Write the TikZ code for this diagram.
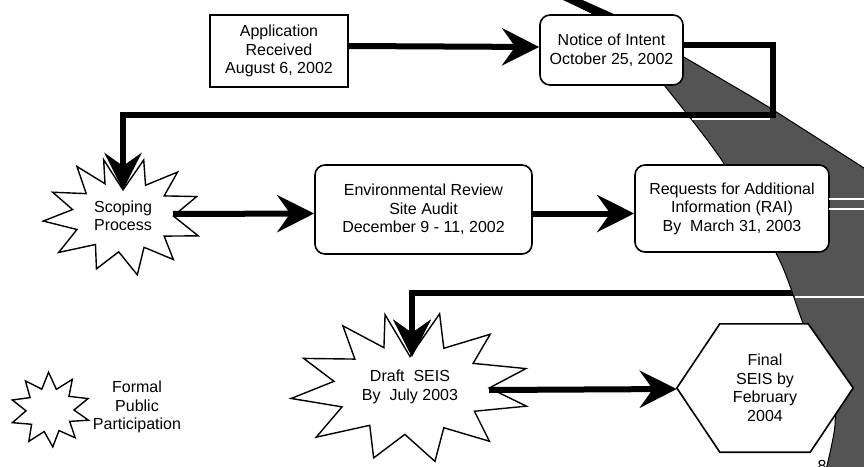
\documentclass[tikz,border=0pt]{standalone}
\usepackage{fontspec}
\setmainfont{Liberation Sans}
\usetikzlibrary{arrows.meta,calc}
\pgfdeclarelayer{low}
\pgfdeclarelayer{band}
\pgfdeclarelayer{top}
\pgfsetlayers{low,band,main,top}
\definecolor{bandgray}{gray}{0.33}
\begin{document}
\begin{tikzpicture}[x=1pt,y=-1pt,
  lbl/.style={font=\fontsize{16}{18.5}\selectfont, align=center},
  box/.style={lbl, draw, line width=1.6pt, fill=white, inner sep=0pt},
  rbox/.style={box, rounded corners=10pt},
  burstline/.style={draw, line width=1.4pt, fill=white, line join=miter},
  link/.style={line width=6pt, line join=miter, line cap=butt},
  flow/.style={link, -{Stealth[length=37pt,width=37pt,inset=13pt]}},
  streak/.style={white, line width=1.5pt},
]
\useasboundingbox (0,0) rectangle (864,466);

% ---------------- nodes ----------------
\node[box, minimum width=138pt, minimum height=72pt] (app) at (279,51) {Application\\Received\\August 6, 2002};
\node[rbox, minimum width=143pt, minimum height=70pt] (notice) at (611.5,50) {Notice of Intent\\October 25, 2002};

% Scoping starburst
\coordinate (scoping) at (123,216);
\begin{scope}[shift={(scoping)}, x=80pt, y=-58pt]
\path[burstline] plot coordinates {(0:0.63) (20:1.0) (34:0.62) (50:0.98) (64:0.6) (80:1.03) (95:0.62) (110:0.97) (125:0.6) (142:1.02) (158:0.62) (175:1.0) (190:0.64) (205:0.97) (220:0.6) (236:1.03) (248:0.6) (256:1.0) (270:0.45) (285:1.0) (298:0.6) (312:1.02) (326:0.62) (340:0.98)} -- cycle;
\end{scope}
\node[lbl] (scopingtext) at (scoping) {Scoping\\Process};

\node[rbox, minimum width=217pt, minimum height=89pt] (env) at (423.5,209.5) {Environmental Review\\Site Audit\\December 9 - 11, 2002};
\node[rbox, minimum width=194pt, minimum height=87pt] (rai) at (732,208.5) {Requests for Additional\\Information (RAI)\\By\ \ March 31, 2003};

% Draft SEIS starburst
\coordinate (draft) at (410,388);
\begin{scope}[shift={(draft)}, x=120pt, y=-75pt]
\path[burstline] plot coordinates {(0:0.66) (14:1.0) (30:0.62) (47:0.97) (62:0.6) (78:1.0) (94:0.62) (108:0.98) (124:0.6) (140:1.02) (156:0.62) (172:1.0) (188:0.64) (204:0.97) (220:0.6) (236:1.0) (248:0.58) (258:1.0) (270:0.42) (284:1.02) (298:0.6) (313:0.98) (328:0.62) (345:1.0)} -- cycle;
\end{scope}
\node[lbl] (drafttext) at ($(draft)+(0,-1)$) {Draft\ \ SEIS\\By\ \ July 2003};

% Final SEIS hexagon
\node[lbl, minimum width=176pt, minimum height=128pt, inner sep=0pt] (final) at (765,388) {};
\draw[line width=1.6pt, fill=white, line join=miter] (final.west) -- ($(final.north west)+(43,0)$) -- ($(final.north east)+(-45,0)$) -- (final.east) -- ($(final.south east)+(-43,0)$) -- ($(final.south west)+(43,0)$) -- cycle;
\node[lbl] (finaltext) at (final.center) {Final\\SEIS by\\February\\2004};

% legend
\coordinate (legend) at (50,410);
\begin{scope}[shift={(legend)}, x=40pt, y=-37pt]
\path[burstline] plot coordinates {(0:0.6) (16:1.0) (32:0.58) (50:0.98) (68:0.6) (86:1.0) (104:0.6) (122:1.0) (140:0.6) (160:1.0) (178:0.6) (196:0.98) (214:0.6) (232:1.0) (250:0.6) (268:1.02) (286:0.58) (304:1.0) (322:0.6) (342:1.0)} -- cycle;
\end{scope}
\node[lbl] (legtext) at (137,407) {Formal\\Public\\Participation};
\node[lbl, anchor=base] (page) at (822,471) {8};

\coordinate (n1) at (773,115);
\coordinate (n2) at (123,115);
\coordinate (r1) at (890,293);
\coordinate (r2) at (412,293);

% ---------------- band ----------------
\begin{pgfonlayer}{band}
\begin{scope}
\clip (0,0) rectangle (864,466);
\path[draw=black, line width=1pt, fill=bandgray]
  (574,-2) -- plot[smooth] coordinates {(607,12) (665,46) (723,80) (770,108) (864,168) (880,178)}
  -- (880,480) -- (826,480)
  -- plot[smooth] coordinates {(826,470) (835,425) (831,390) (803,323) (778,257) (723,162) (660,80) (618,30) (600,17)}
  -- (560,-2) -- cycle;
\fill[black] (562,-2) -- (578,-2) -- (616,15) -- (600,18) -- cycle;
\end{scope}
\end{pgfonlayer}

% ---------------- connectors ----------------
\begin{pgfonlayer}{low}
\begin{scope}
\clip (0,0) rectangle (864,466);
\draw[flow] (rai.center) -| (r1) -- (r2) -- ($(draft)+(2,-31)$);
\end{scope}
\end{pgfonlayer}

\begin{pgfonlayer}{top}
\draw[flow] ($(app.east)+(0,-5)$) -- ($(notice.west)+(0,-3)$);
\draw[flow] ($(notice.east)+(0,-5)$) -| (n1) -- (n2) -- ($(scoping)+(0,-26)$);
\draw[flow] ($(scoping)+(50,-2)$) -- ($(env.west)+(0,4)$);
\draw[flow] ($(env.east)+(0,4)$) -- ($(rai.west)+(0,5)$);
\draw[flow] (r2) -- ($(draft)+(2,-31)$);
\draw[flow] ($(draft)+(79,2)$) -- ($(final.west)+(0,1)$);
% light streaks where hidden lines cross the band
\draw[streak] (829,199) -- (864,199);
\draw[streak] (829,209) -- (864,209);
\draw[streak] (795,297) -- (864,297);
\draw[streak, line width=1.2pt] (692,119) -- (770,119);
\end{pgfonlayer}
\end{tikzpicture}
\end{document}
